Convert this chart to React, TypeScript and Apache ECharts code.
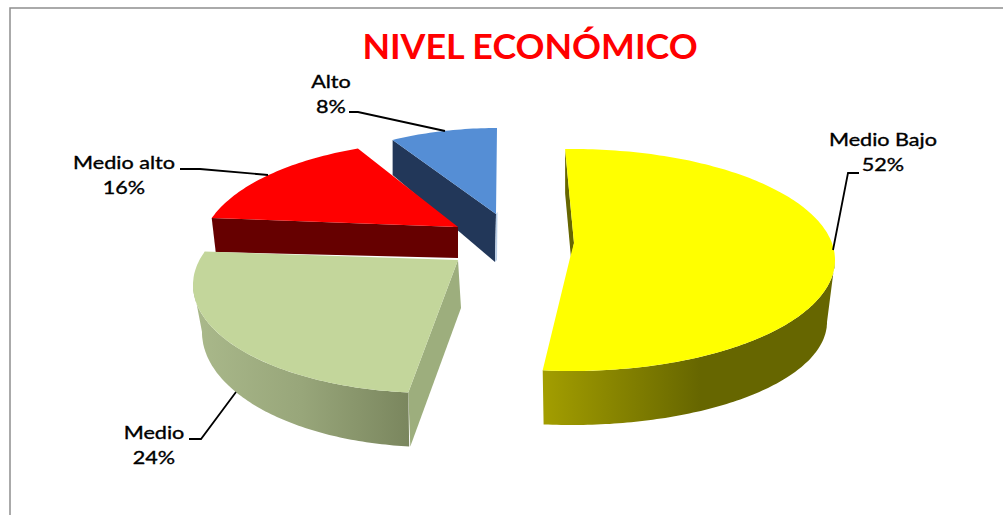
import React, { useEffect, useRef } from "react";
import * as echarts from "echarts";

const categories = ["Medio Bajo", "Medio", "Medio alto", "Alto"];
const values = [52, 24, 16, 8];
const titleText = "NIVEL ECONÓMICO";

const topColors = ["#FFFF00", "#C3D69B", "#FF0000", "#558ED5"];
const edgeColors = ["#666600", "#9DAE7D", "#660000", "#223759"];
const wallStops: [number, string][][] = [
  [[0, "#A39E00"], [0.54, "#666600"], [1, "#666600"]],
  [[0, "#AAB98B"], [0.5, "#98A67A"], [1, "#7A865E"]],
  [[0, "#660000"], [1, "#660000"]],
  [[0, "#223759"], [1, "#223759"]],
];

// Perspective of each drawn slice: top ellipse, base ellipse, apex, and
// the correction of the projected angle.
const SLICE_LAYOUT = [
  { c: [572, 260], r: [263, 111], cb: [572, 322], rb: [255, 103], apex: [574, 243], apexB: [571, 258], kink: [570, 258], drop: [0, 44], a0: -1.5, a1: -0.8, sliver: null },
  { c: [432, 285], r: [239, 108], cb: [432, 332], rb: [230, 115], apex: [458, 260], apexB: [461, 308], kink: null, drop: [2, 54], a0: -1.5, a1: 14.4, sliver: null },
  { c: [440, 252], r: [240, 110], cb: [440, 285], rb: [236, 105], apex: [458, 227], apexB: [458, 258], kink: null, drop: [4, 34], a0: 14.4, a1: 8.8, sliver: null },
  { c: [497, 238], r: [230, 110], cb: [497, 266], rb: [230, 105], apex: [496, 214], apexB: [495, 262], kink: null, drop: [0, 35], a0: 1.8, a1: 0, sliver: "#B9CDE5" },
];
const DRAW_RANK = [1, 3, 2, 0];

const LABEL_LAYOUT = [
  { at: [883, 152], line: [[859, 173], [848, 173], [833, 250]] },
  { at: [154, 445], line: [[189, 439], [201, 439], [236, 392]] },
  { at: [124, 175], line: [[180, 169], [200, 169], [268, 175]] },
  { at: [331, 94], line: [[349, 112], [358, 112], [445, 131]] },
];

const rad = (d: number) => (d * Math.PI) / 180;

function arc(c: number[], r: number[], from: number, to: number): number[][] {
  const out: number[][] = [];
  const n = Math.max(2, Math.ceil(Math.abs(to - from)));
  for (let i = 0; i <= n; i++) {
    const t = rad(from + ((to - from) * i) / n);
    out.push([c[0] + r[0] * Math.sin(t), c[1] - r[1] * Math.cos(t)]);
  }
  return out;
}

const toPath = (pts: number[][]) =>
  "M" + pts.map((p) => p[0].toFixed(1) + " " + p[1].toFixed(1)).join("L") + "Z";

export default function App() {
  const ref = useRef<HTMLDivElement>(null);

  useEffect(() => {
    const chart = echarts.init(ref.current!, undefined, { renderer: "svg" });
    const total = values.reduce((a, b) => a + b, 0);

    const renderItem = (params: any, api: any) => {
      const i = params.dataIndex;
      const L = SLICE_LAYOUT[i];
      const before = values.slice(0, i).reduce((a, b) => a + b, 0);
      const start = (before / total) * 360 + L.a0;
      const end = ((before + api.value(0)) / total) * 360 + L.a1;
      const base = DRAW_RANK[i] * 10;
      const children: any[] = [];

      // start-edge wall
      const top0 = arc(L.c, L.r, start, start)[0];
      const startWall = [
        top0,
        L.apex,
        L.apexB,
        [top0[0] + L.drop[0], top0[1] + L.drop[1]],
      ];
      children.push({
        type: "path",
        z2: base,
        shape: { pathData: toPath(startWall) },
        style: { fill: edgeColors[i] },
      });

      // thin end-edge wall, where it shows
      if (L.sliver) {
        const sl = [
          L.apex,
          L.apexB,
          [L.apexB[0] + 2, L.apexB[1] - 2],
          [L.apex[0] + 1.5, L.apex[1] - 2],
        ];
        children.push({
          type: "path",
          z2: base,
          shape: { pathData: toPath(sl) },
          style: { fill: L.sliver },
        });
      }

      // outer wall, visible only on the front half
      const wFrom = Math.max(start, 90);
      const wTo = Math.min(end, 270);
      if (wTo > wFrom) {
        const pts = arc(L.c, L.r, wFrom, wTo).concat(arc(L.cb, L.rb, wTo, wFrom));
        children.push({
          type: "path",
          z2: base + 1,
          shape: { pathData: toPath(pts) },
          style: {
            fill: {
              type: "linear",
              x: 0,
              y: 0,
              x2: 1,
              y2: 0,
              colorStops: wallStops[i].map((s) => ({ offset: s[0], color: s[1] })),
            },
          },
        });
      }

      // top face
      const face = arc(L.c, L.r, start, end);
      if (L.kink) face.push(L.kink);
      face.push(L.apex);
      children.push({
        type: "path",
        z2: base + 2,
        shape: { pathData: toPath(face) },
        style: { fill: topColors[i] },
      });

      // leader line and label
      const lab = LABEL_LAYOUT[i];
      children.push({
        type: "polyline",
        z2: 100,
        shape: { points: lab.line },
        style: { fill: "none", stroke: "#000000", lineWidth: 1.8 },
      });
      const pct = Math.round((api.value(0) / total) * 100) + "%";
      children.push({
        type: "text",
        z2: 101,
        x: lab.at[0],
        y: lab.at[1],
        scaleX: 1.27,
        style: {
          text: categories[i] + "\n" + pct,
          align: "center",
          verticalAlign: "middle",
          fill: "#000000",
          stroke: "#000000",
          lineWidth: 0.35,
          font: "17px Lato",
          lineHeight: 25,
        },
      });
      return { type: "group", children };
    };

    chart.setOption({
      animation: false,
      backgroundColor: "#ffffff",
      graphic: [
        {
          type: "rect",
          silent: true,
          shape: { x: 10, y: 8, width: 1100, height: 600 },
          style: { fill: "none", stroke: "#8E8E8E", lineWidth: 1.5 },
        },
        {
          type: "text",
          silent: true,
          x: 530,
          y: 46,
          scaleX: 1.054,
          style: {
            text: titleText,
            align: "center",
            verticalAlign: "middle",
            fill: "#FF0000",
            font: "bold 34px Lato",
          },
        },
      ],
      series: [
        {
          type: "custom",
          coordinateSystem: "none",
          renderItem,
          data: values.map((v, i) => ({ name: categories[i], value: v })),
        },
      ],
    });
    return () => chart.dispose();
  }, []);

  return (
    <div
      ref={ref}
      style={{ position: "absolute", left: 0, top: 0, width: 1003, height: 515 }}
    />
  );
}
